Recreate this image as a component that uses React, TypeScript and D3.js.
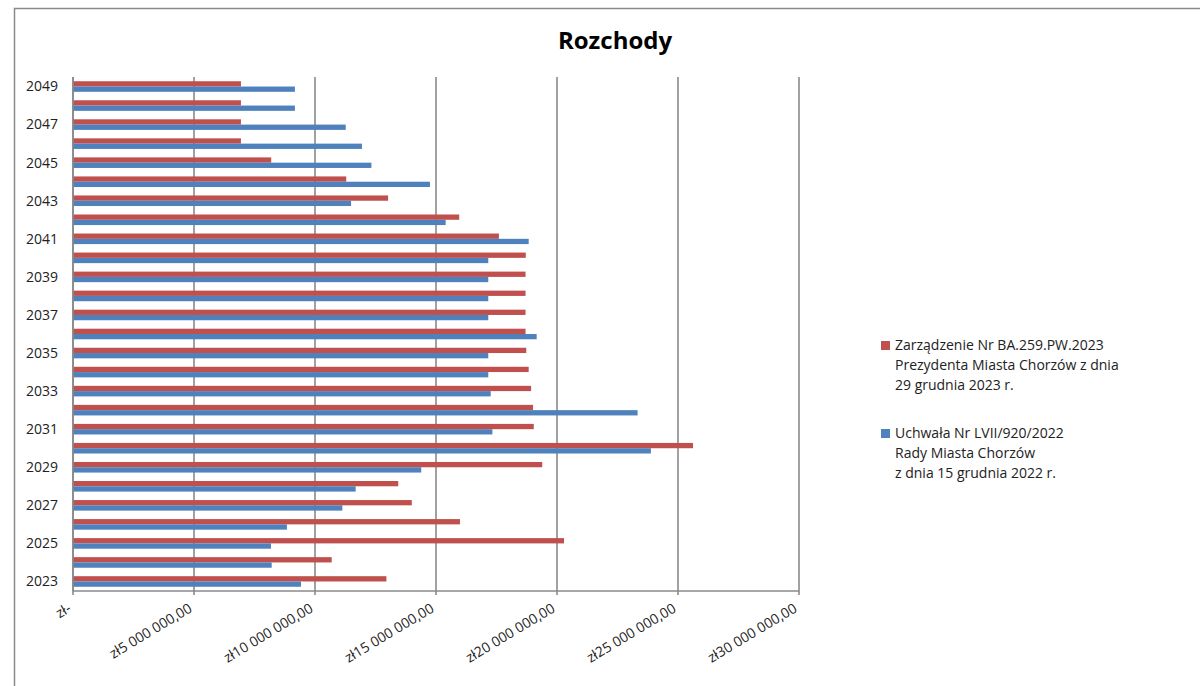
import React from "react";
import * as d3 from "d3";

const years = [2023, 2024, 2025, 2026, 2027, 2028, 2029, 2030, 2031, 2032, 2033, 2034, 2035, 2036, 2037, 2038, 2039, 2040, 2041, 2042, 2043, 2044, 2045, 2046, 2047, 2048, 2049];

// Zarządzenie Nr BA.259.PW.2023 (red)
const zarzadzenie = [12950000, 10690000, 20290000, 15990000, 14000000, 13440000, 19390000, 25620000, 19040000, 19010000, 18930000, 18830000, 18730000, 18700000, 18700000, 18700000, 18700000, 18710000, 17600000, 15960000, 13020000, 11290000, 8190000, 6940000, 6940000, 6940000, 6940000];

// Uchwała Nr LVII/920/2022 (blue)
const uchwala = [9420000, 8210000, 8180000, 8840000, 11130000, 11680000, 14390000, 23880000, 17330000, 23330000, 17260000, 17160000, 17160000, 19160000, 17160000, 17160000, 17160000, 17160000, 18830000, 15400000, 11490000, 14750000, 12330000, 11940000, 11270000, 9170000, 9170000];

const xTicks = [0, 5000000, 10000000, 15000000, 20000000, 25000000, 30000000];

const legendRed = ["Zarządzenie Nr BA.259.PW.2023", "Prezydenta Miasta Chorzów z dnia", "29 grudnia 2023 r."];
const legendBlue = ["Uchwała Nr LVII/920/2022", "Rady Miasta Chorzów", "z dnia 15 grudnia 2022 r."];

const RED = "#C0504D";
const BLUE = "#4F81BD";
const GRID = "#8a8a8a";
const FONT = "'Open Sans', 'DejaVu Sans', sans-serif";

function fmt(v: number): string {
  if (v === 0) return "zł-";
  const s = d3.format(",")(v).replace(/,/g, " ");
  return "zł" + s + ",00";
}

export default function App() {
  const W = 1200, H = 686;
  const left = 73, right = 799, top = 77, bottom = 591;

  const x = d3.scaleLinear().domain([0, 30000000]).range([left, right]);
  const y = d3.scaleBand<number>().domain([...years].reverse()).range([top, bottom]).paddingInner(0).paddingOuter(0);
  const sub = d3.scaleBand<string>().domain(["red", "blue"]).range([0, y.bandwidth()]).paddingInner(0).paddingOuter(0.8);

  return (
    <svg width={W} height={H} style={{ position: "absolute", left: 0, top: 0, background: "#fff" }} fontFamily={FONT}>
      <rect x={0} y={0} width={W} height={H} fill="#fff" />
      {/* outer frame */}
      <path d={`M14.5,${H} L14.5,8.5 L${W},8.5`} fill="none" stroke="#8a8a8a" strokeWidth={1.5} />

      <text x={615} y={49} textAnchor="middle" fontSize={24} fontWeight="bold" fill="#000">Rozchody</text>

      {/* gridlines */}
      {xTicks.map((t) => (
        <line key={"g" + t} x1={x(t)} x2={x(t)} y1={top} y2={bottom + 4} stroke={GRID} strokeWidth={1.6} />
      ))}

      {/* bars */}
      {years.map((yr, i) => (
        <g key={yr}>
          <rect x={x(0)} y={(y(yr) as number) + (sub("red") as number)} width={x(zarzadzenie[i]) - x(0)} height={sub.bandwidth()} fill={RED} />
          <rect x={x(0)} y={(y(yr) as number) + (sub("blue") as number)} width={x(uchwala[i]) - x(0)} height={sub.bandwidth()} fill={BLUE} />
        </g>
      ))}

      {/* axes */}
      <line x1={left} x2={left} y1={top} y2={bottom} stroke={GRID} strokeWidth={1.6} />
      <line x1={left} x2={right} y1={bottom} y2={bottom} stroke={GRID} strokeWidth={1.6} />

      {/* y labels */}
      {years.filter((yr) => yr % 2 === 1).map((yr) => (
        <text key={"y" + yr} x={58} y={(y(yr) as number) + y.bandwidth() / 2} dy="0.35em" textAnchor="end" fontSize={14} fill="#222">{yr}</text>
      ))}

      {/* x labels */}
      {xTicks.map((t) => (
        <text key={"x" + t} transform={`translate(${x(t) - 1},${611}) rotate(-31)`} textAnchor="end" fontSize={14} fill="#222">{fmt(t)}</text>
      ))}

      {/* legend */}
      <rect x={881} y={341} width={9} height={9} fill={RED} />
      {legendRed.map((l, i) => (
        <text key={"lr" + i} x={895} y={350 + i * 20} fontSize={14} fill="#222">{l}</text>
      ))}
      <rect x={881} y={429} width={9} height={9} fill={BLUE} />
      {legendBlue.map((l, i) => (
        <text key={"lb" + i} x={895} y={438 + i * 20} fontSize={14} fill="#222">{l}</text>
      ))}
    </svg>
  );
}
